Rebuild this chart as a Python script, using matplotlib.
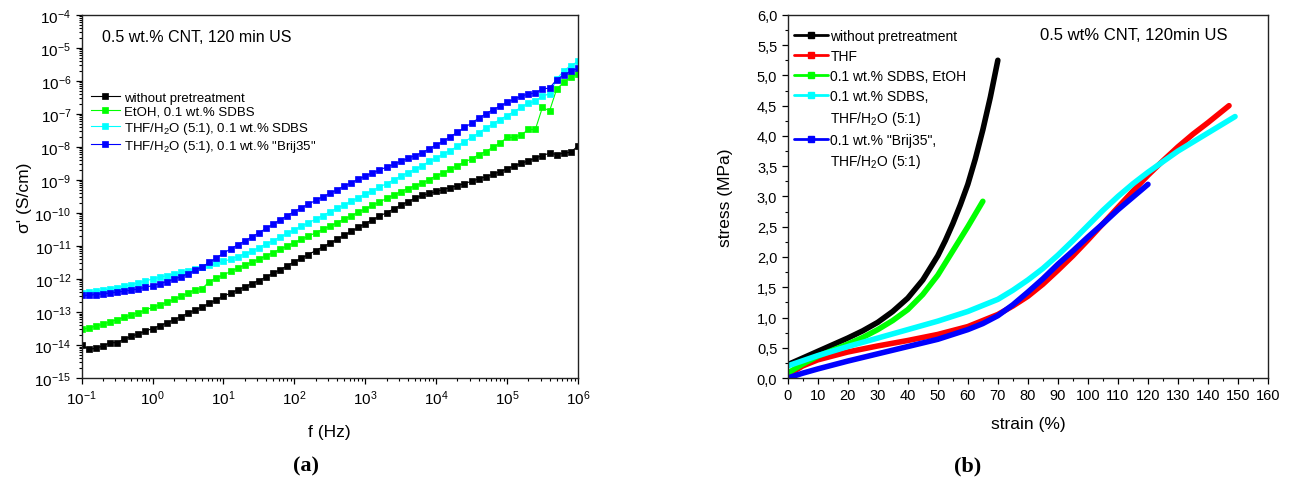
import numpy as np
import matplotlib.pyplot as plt
from matplotlib.lines import Line2D
from matplotlib.ticker import LogLocator, MultipleLocator, FuncFormatter

plt.rcParams['font.family'] = ['Liberation Sans', 'DejaVu Sans']
plt.rcParams['mathtext.fontset'] = 'custom'
plt.rcParams['mathtext.rm'] = 'Liberation Sans'
plt.rcParams['mathtext.it'] = 'Liberation Sans:italic'

# (a) conductivity vs frequency, 10 points per decade
freq = [0.1, 0.126, 0.158, 0.2, 0.251, 0.316, 0.398, 0.501, 0.631, 0.794,
        1, 1.26, 1.58, 2, 2.51, 3.16, 3.98, 5.01, 6.31, 7.94,
        10, 12.6, 15.8, 20, 25.1, 31.6, 39.8, 50.1, 63.1, 79.4,
        100, 126, 158, 200, 251, 316, 398, 501, 631, 794,
        1e3, 1.26e3, 1.58e3, 2e3, 2.51e3, 3.16e3, 3.98e3, 5.01e3, 6.31e3, 7.94e3,
        1e4, 1.26e4, 1.58e4, 2e4, 2.51e4, 3.16e4, 3.98e4, 5.01e4, 6.31e4, 7.94e4,
        1e5, 1.26e5, 1.58e5, 2e5, 2.51e5, 3.16e5, 3.98e5, 5.01e5, 6.31e5, 7.94e5,
        1e6]

# log10 of sigma' (S/cm)
log_black = [-14.00, -14.13, -14.10, -14.03, -13.93, -13.93, -13.82, -13.74, -13.66, -13.58,
             -13.50, -13.42, -13.33, -13.24, -13.14, -13.04, -12.94, -12.84, -12.74, -12.63,
             -12.52, -12.43, -12.33, -12.24, -12.14, -12.05, -11.94, -11.83, -11.72, -11.60,
             -11.48, -11.37, -11.26, -11.14, -11.03, -10.92, -10.80, -10.68, -10.56, -10.44,
             -10.32, -10.21, -10.10, -9.99, -9.88, -9.77, -9.66, -9.56, -9.47, -9.41,
             -9.35, -9.29, -9.23, -9.17, -9.11, -9.04, -8.97, -8.90, -8.83, -8.75,
             -8.66, -8.58, -8.50, -8.42, -8.34, -8.26, -8.19, -8.23, -8.19, -8.16,
             -7.97]
log_green = [-13.52, -13.48, -13.43, -13.37, -13.30, -13.23, -13.16, -13.09, -13.02, -12.94,
             -12.86, -12.79, -12.71, -12.62, -12.53, -12.43, -12.32, -12.29, -12.08, -11.97,
             -11.88, -11.77, -11.67, -11.58, -11.49, -11.40, -11.30, -11.20, -11.10, -11.00,
             -10.90, -10.80, -10.70, -10.60, -10.50, -10.40, -10.30, -10.19, -10.09, -9.98,
             -9.88, -9.77, -9.67, -9.56, -9.46, -9.36, -9.26, -9.18, -9.10, -8.99,
             -8.87, -8.79, -8.67, -8.57, -8.46, -8.36, -8.24, -8.14, -8.01, -7.89,
             -7.71, -7.71, -7.64, -7.47, -7.47, -6.80, -6.91, -6.25, -6.04, -5.89,
             -5.79]
log_cyan = [-12.42, -12.40, -12.37, -12.34, -12.30, -12.26, -12.22, -12.17, -12.12, -12.06,
            -12.00, -11.95, -11.90, -11.85, -11.80, -11.75, -11.70, -11.65, -11.59, -11.53,
            -11.47, -11.40, -11.32, -11.24, -11.16, -11.05, -10.94, -10.84, -10.73, -10.62,
            -10.51, -10.40, -10.30, -10.19, -10.08, -9.97, -9.86, -9.76, -9.65, -9.54,
            -9.43, -9.32, -9.22, -9.11, -9.00, -8.89, -8.78, -8.68, -8.57, -8.44,
            -8.34, -8.21, -8.11, -7.98, -7.84, -7.71, -7.58, -7.43, -7.30, -7.17,
            -7.05, -6.93, -6.80, -6.67, -6.62, -6.45, -6.40, -5.95, -5.69, -5.54,
            -5.41]
log_blue = [-12.50, -12.49, -12.47, -12.45, -12.43, -12.40, -12.37, -12.34, -12.30, -12.25,
            -12.20, -12.14, -12.08, -12.01, -11.93, -11.84, -11.74, -11.63, -11.50, -11.36,
            -11.22, -11.09, -10.97, -10.85, -10.73, -10.60, -10.47, -10.34, -10.21, -10.08,
            -9.96, -9.84, -9.73, -9.62, -9.51, -9.41, -9.30, -9.19, -9.09, -8.98,
            -8.88, -8.79, -8.70, -8.61, -8.53, -8.44, -8.35, -8.26, -8.18, -8.06,
            -7.94, -7.83, -7.69, -7.56, -7.41, -7.28, -7.13, -7.00, -6.87, -6.77,
            -6.65, -6.55, -6.47, -6.39, -6.37, -6.24, -6.22, -5.96, -5.82, -5.71,
            -5.62]

labels_a = ["without pretreatment", "EtOH, 0.1 wt.% SDBS",
            "THF/H$_2$O (5:1), 0.1 wt.% SDBS", "THF/H$_2$O (5:1), 0.1 wt.% \"Brij35\""]

# (b) stress-strain curves
strain_black = [0, 5, 10, 15, 20, 25, 30, 35, 40, 45, 50, 52.5, 55, 57.5, 60, 62.5, 65, 67.5, 70]
stress_black = [0.22, 0.33, 0.44, 0.55, 0.66, 0.78, 0.92, 1.10, 1.32, 1.62, 2.02, 2.27, 2.55,
                2.86, 3.20, 3.62, 4.10, 4.64, 5.25]
strain_red = [0, 5, 10, 20, 30, 40, 50, 60, 70, 75, 80, 85, 90, 95, 100, 105, 110, 115,
              120, 125, 130, 135, 140, 147]
stress_red = [0.05, 0.20, 0.30, 0.43, 0.53, 0.62, 0.72, 0.85, 1.05, 1.19, 1.35, 1.55, 1.78,
              2.02, 2.28, 2.55, 2.82, 3.09, 3.35, 3.59, 3.82, 4.03, 4.22, 4.50]
strain_green = [0, 5, 10, 15, 20, 25, 30, 35, 40, 45, 50, 55, 57.5, 60, 62.5, 65]
stress_green = [0.08, 0.23, 0.36, 0.46, 0.56, 0.67, 0.80, 0.95, 1.13, 1.38, 1.70, 2.10, 2.30,
                2.50, 2.71, 2.92]
strain_cyan = [0, 10, 20, 30, 40, 50, 60, 70, 75, 80, 85, 90, 95, 100, 105, 110, 115, 120,
               130, 140, 149]
stress_cyan = [0.20, 0.37, 0.52, 0.66, 0.80, 0.94, 1.10, 1.30, 1.45, 1.62, 1.81, 2.03, 2.27,
               2.52, 2.77, 3.00, 3.21, 3.40, 3.75, 4.05, 4.32]
strain_blue = [0, 5, 10, 20, 30, 40, 50, 60, 65, 70, 75, 80, 85, 90, 95, 100, 105, 110, 115, 120]
stress_blue = [0.0, 0.08, 0.15, 0.28, 0.40, 0.52, 0.64, 0.80, 0.90, 1.03, 1.21, 1.42, 1.64,
               1.88, 2.10, 2.33, 2.55, 2.78, 2.99, 3.20]

labels_b = ["without pretreatment", "THF", "0.1 wt.% SDBS, EtOH",
            "0.1 wt.% SDBS,", "THF/H$_2$O (5:1)", "0.1 wt.% \"Brij35\",", "THF/H$_2$O (5:1)"]

fig = plt.figure(figsize=(12.9, 4.81), dpi=100)
ax1 = fig.add_axes([0.0633, 0.212, 0.3847, 0.755])
ax2 = fig.add_axes([0.6106, 0.212, 0.3724, 0.755])

# ---- panel (a)
colors_a = ['#000000', '#00ff00', '#00ffff', '#0000ff']
for logs, c, lab in zip([log_black, log_green, log_cyan, log_blue], colors_a, labels_a):
    ax1.plot(freq, 10 ** np.array(logs), color=c, lw=0.8, marker='s', ms=5.0,
             mfc=c, mec=c, mew=0.5, label=lab)
ax1.set_xscale('log')
ax1.set_yscale('log')
ax1.set_xlim(0.1, 1e6)
ax1.set_ylim(1e-15, 1e-4)
ax1.yaxis.set_major_locator(LogLocator(base=10, numticks=20))
ax1.yaxis.set_minor_locator(LogLocator(base=10, subs=np.arange(2, 10), numticks=20))
ax1.xaxis.set_major_locator(LogLocator(base=10, numticks=20))
ax1.xaxis.set_minor_locator(LogLocator(base=10, subs=np.arange(2, 10), numticks=20))
ax1.set_xlabel("f (Hz)", fontsize=12.5, labelpad=12)
ax1.set_ylabel("σ' (S/cm)", fontsize=12.5, labelpad=2)
ax1.text(0.04, 0.94, "0.5 wt.% CNT, 120 min US", transform=ax1.transAxes,
         fontsize=11.5, va='center')
ax1.legend(loc='upper left', bbox_to_anchor=(0.0, 0.815), frameon=False, fontsize=9.5,
           handlelength=2.2, handletextpad=0.3, labelspacing=0.15, borderaxespad=0.3)
ax1.tick_params(which='major', labelsize=11)

# ---- panel (b)
series_b = [(strain_black, stress_black, '#000000'), (strain_red, stress_red, '#ff0000'),
            (strain_green, stress_green, '#00ff00'), (strain_cyan, stress_cyan, '#00ffff'),
            (strain_blue, stress_blue, '#0000ff')]
lines_b = []
for sx, sy, c in series_b:
    ln, = ax2.plot(sx, sy, color=c, lw=4, solid_capstyle='round', solid_joinstyle='round')
    lines_b.append(ln)
blank = Line2D([], [], color='none')
handles_b = [lines_b[0], lines_b[1], lines_b[2], lines_b[3], blank, lines_b[4], blank]
ax2.set_xlim(0, 160)
ax2.set_ylim(0, 6)
ax2.xaxis.set_major_locator(MultipleLocator(10))
ax2.xaxis.set_minor_locator(MultipleLocator(5))
ax2.yaxis.set_major_locator(MultipleLocator(0.5))
ax2.yaxis.set_minor_locator(MultipleLocator(0.25))
ax2.yaxis.set_major_formatter(FuncFormatter(lambda v, p: f"{v:.1f}".replace('.', ',')))
ax2.set_xlabel("strain (%)", fontsize=12.5, labelpad=10)
ax2.set_ylabel("stress (MPa)", fontsize=12.5, labelpad=17)
ax2.text(0.721, 0.945, "0.5 wt% CNT, 120min US", transform=ax2.transAxes,
         fontsize=12, va='center', ha='center')
leg = ax2.legend(handles_b, labels_b, loc='upper left', bbox_to_anchor=(-0.005, 0.985),
                 frameon=False, fontsize=10, handlelength=2.5, handletextpad=0.15,
                 labelspacing=0.43, borderaxespad=0.2)
for line in leg.get_lines():
    line.set_linewidth(2)
    if line.get_color() != 'none':
        line.set_marker('s')
        line.set_markersize(4)
ax2.tick_params(which='major', labelsize=10.5)

for ax in (ax1, ax2):
    ax.tick_params(which='major', direction='out', length=4, width=0.9)
    ax.tick_params(which='minor', direction='out', length=2.5, width=0.8)
    for s in ax.spines.values():
        s.set_linewidth(1.0)
        s.set_color('#222222')

fig.text(0.2372, 0.031, "(a)", fontsize=16, fontweight='bold', family='Liberation Serif',
         ha='center', va='center')
fig.text(0.7504, 0.031, "(b)", fontsize=16, fontweight='bold', family='Liberation Serif',
         ha='center', va='center')

fig.savefig("out.png", dpi=100)
